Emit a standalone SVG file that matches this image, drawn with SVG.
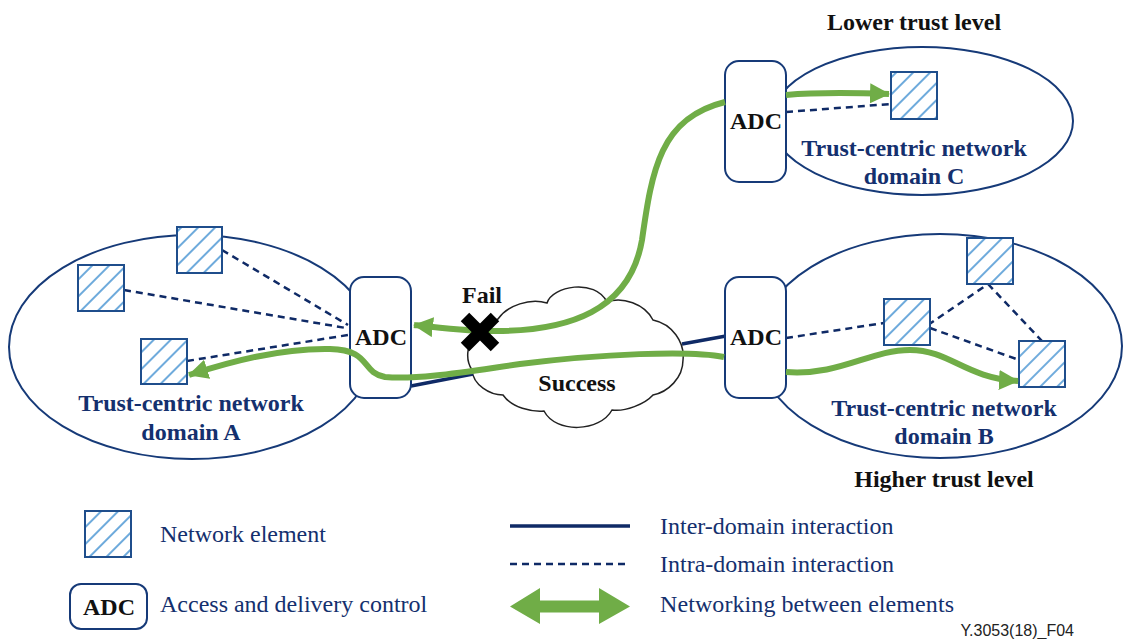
<svg xmlns="http://www.w3.org/2000/svg" width="1123" height="639" viewBox="0 0 1123 639">
<style>
text{font-family:"Liberation Serif","Times New Roman",serif}
.dom{fill:#fff;stroke:#163a78;stroke-width:2}
.adc{fill:#fff;stroke:#163a78;stroke-width:2}
.adct{font-size:24px;font-weight:bold;fill:#111;text-anchor:middle}
.b{font-size:24px;font-weight:bold;fill:#14306e;text-anchor:middle}
.k{font-size:24px;font-weight:bold;fill:#111;text-anchor:middle}
.l{font-size:24px;fill:#14306e}
.ne{fill:url(#hatch);stroke:#1f4e8c;stroke-width:2}
.dash{fill:none;stroke:#0f2a66;stroke-width:2.5;stroke-dasharray:7 5}
.solid{fill:none;stroke:#0f2a66;stroke-width:3.5}
.g{fill:none;stroke:#70ad47;stroke-width:6}
</style>
<defs>
<pattern id="hatch" patternUnits="userSpaceOnUse" width="12" height="12" patternTransform="rotate(45)">
<rect width="12" height="12" fill="#fff"/>
<rect x="0" width="2" height="12" fill="#6fabdc"/>
</pattern>
<marker id="ah" markerUnits="userSpaceOnUse" markerWidth="20" markerHeight="20" refX="19" refY="10" orient="auto-start-reverse">
<path d="M0 0L20 10L0 20z" fill="#70ad47"/>
</marker>
</defs>
<g id="domain-a"><ellipse class="dom" cx="192" cy="347" rx="183" ry="112"/></g>
<g id="domain-b"><ellipse class="dom" cx="940" cy="346" rx="182" ry="112"/></g>
<g id="domain-c"><ellipse class="dom" cx="922" cy="121" rx="151" ry="74"/></g>
<g id="cloud"><path d="M498 319C508 305 530 298 547 303C552 286 595 278 607 302C622 296 645 304 653 320C672 324 685 342 683 360C683 378 668 392 653 395C645 404 625 412 612 410C600 432 556 434 544 411C532 412 512 408 503 395C490 395 473 385 472 370C464 358 468 340 478 333C484 326 490 322 498 319Z" fill="#fff" stroke="#222" stroke-width="1.5"/></g>
<g id="element-links">
<path class="solid" d="M411 386L473 374"/>
<path class="solid" d="M682 344L726 336"/>
<path class="dash" d="M124 290L346 328"/>
<path class="dash" d="M222 250L348 325"/>
<path class="dash" d="M187 361L348 335"/>
<path class="dash" d="M786 338L884 323"/>
<path class="dash" d="M928 325L988 284"/>
<path class="dash" d="M988 284L1042 341"/>
<path class="dash" d="M930 328L1019 360"/>
<path class="dash" d="M786 112L891 104"/>
</g>
<text class="k" x="577" y="391">Success</text>
<g id="ne-a1"><rect class="ne" x="177" y="227" width="45" height="46"/></g>
<g id="ne-a2"><rect class="ne" x="78" y="265" width="46" height="46"/></g>
<g id="ne-a3"><rect class="ne" x="141" y="339" width="46" height="45"/></g>
<g id="ne-b1"><rect class="ne" x="967" y="238" width="46" height="46"/></g>
<g id="ne-b2"><rect class="ne" x="884" y="299" width="46" height="46"/></g>
<g id="ne-b3"><rect class="ne" x="1019" y="341" width="46" height="46"/></g>
<g id="ne-c"><rect class="ne" x="891" y="72" width="46" height="47"/></g>
<g id="adc-a"><rect class="adc" x="350" y="277" width="61" height="121" rx="14"/><text class="adct" x="381" y="345">ADC</text></g>
<g id="adc-b"><rect class="adc" x="725" y="277" width="61" height="121" rx="14"/><text class="adct" x="756" y="345">ADC</text></g>
<g id="adc-c"><rect class="adc" x="725" y="61" width="61" height="121" rx="14"/><text class="adct" x="756" y="129">ADC</text></g>
<g id="connectors">
<path class="g" marker-end="url(#ah)" d="M725 102C660 118 652 170 642 240C630 310 570 332 490 331C465 331 440 328 414 325"/>
<path class="g" marker-end="url(#ah)" d="M724 357C690 350 600 354 520 364C470 371 420 380 385 377C360 372 372 350 330 349C280 348 230 362 189 375"/>
<path class="g" marker-end="url(#ah)" d="M786 372C840 376 870 350 910 350C950 350 965 378 1018 381"/>
<path class="g" marker-end="url(#ah)" d="M786 95C820 92 860 93 889 94"/>
</g>
<g id="x-mark"><path d="M465 317L495 347M495 317L465 347" stroke="#000" stroke-width="12" fill="none"/><text class="k" x="482" y="303">Fail</text></g>
<g id="labels">
<text class="b" x="191" y="411">Trust-centric network</text><text class="b" x="191" y="440">domain A</text>
<text class="b" x="944" y="416">Trust-centric network</text><text class="b" x="944" y="444">domain B</text>
<text class="b" x="914" y="156">Trust-centric network</text><text class="b" x="914" y="184">domain C</text>
<text class="k" x="914" y="30">Lower trust level</text>
<text class="k" x="944" y="487">Higher trust level</text>
</g>
<g id="legend">
<rect class="ne" x="85" y="511" width="46" height="46"/>
<text class="l" x="160" y="542">Network element</text>
<rect class="adc" x="70" y="584" width="77" height="45" rx="11"/>
<text class="adct" x="109" y="615">ADC</text>
<text class="l" x="160" y="612">Access and delivery control</text>
<path class="solid" d="M510 526H630"/>
<path class="dash" d="M510 564H625"/>
<path d="M510 606.5L540 588V600.5H599V588L630 606.5L599 624V612.5H540V624Z" fill="#70ad47"/>
<text class="l" x="660" y="534">Inter-domain interaction</text>
<text class="l" x="660" y="572">Intra-domain interaction</text>
<text class="l" x="660" y="612" textLength="294">Networking between elements</text>
<text x="1074" y="636" text-anchor="end" style="font-family:'Liberation Sans',sans-serif;font-size:16px;fill:#222">Y.3053(18)_F04</text>
</g>
</svg>
